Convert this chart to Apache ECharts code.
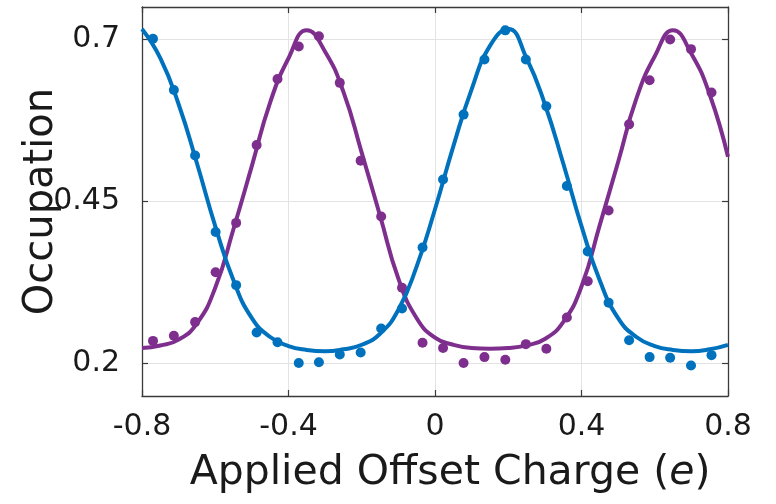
<!DOCTYPE html>
<html>
<head>
<meta charset="utf-8">
<script src="https://cdn.jsdelivr.net/npm/echarts@6/dist/echarts.min.js"></script>
<style>
  html, body { margin: 0; padding: 0; background: #ffffff; }
  #chart { width: 776px; height: 504px; }
</style>
</head>
<body>
<div id="chart"></div>
<script>
// Measured occupation vs applied offset charge (units of e)
const dotX = [-0.770, -0.713, -0.655, -0.599, -0.543, -0.487, -0.430, -0.372, -0.317, -0.260,
              -0.203, -0.147, -0.090, -0.034, 0.022, 0.078, 0.135, 0.192, 0.248, 0.304,
              0.360, 0.417, 0.474, 0.530, 0.586, 0.642, 0.699, 0.755];
const blueDots = [0.701, 0.622, 0.521, 0.403, 0.321, 0.248, 0.233, 0.201, 0.202, 0.214,
                  0.217, 0.254, 0.285, 0.379, 0.484, 0.584, 0.669, 0.714, 0.669, 0.597,
                  0.474, 0.373, 0.294, 0.236, 0.210, 0.209, 0.197, 0.213];
const purpleDots = [0.235, 0.243, 0.264, 0.341, 0.417, 0.537, 0.639, 0.689, 0.705, 0.633,
                    0.513, 0.427, 0.317, 0.232, 0.224, 0.201, 0.210, 0.206, 0.230, 0.223,
                    0.271, 0.327, 0.436, 0.569, 0.637, 0.700, 0.685, 0.618];

// Fitted curves, sampled every 0.05 e
const fitX = [-0.80, -0.75, -0.70, -0.65, -0.60, -0.55, -0.50, -0.45, -0.40, -0.35, -0.30,
              -0.25, -0.20, -0.15, -0.10, -0.05, 0.00, 0.05, 0.10, 0.15, 0.20, 0.25,
              0.30, 0.35, 0.40, 0.45, 0.50, 0.55, 0.60, 0.65, 0.70, 0.75, 0.80];
const blueFit = [0.716, 0.671, 0.600, 0.509, 0.412, 0.328, 0.270, 0.241, 0.227, 0.221, 0.219,
                 0.222, 0.229, 0.246, 0.283, 0.350, 0.438, 0.535, 0.623, 0.690, 0.716, 0.671,
                 0.600, 0.509, 0.412, 0.328, 0.270, 0.241, 0.227, 0.221, 0.219, 0.222, 0.229];
const purpleFit = [0.224, 0.228, 0.237, 0.262, 0.317, 0.408, 0.505, 0.603, 0.671, 0.714, 0.681,
                   0.619, 0.525, 0.428, 0.331, 0.270, 0.240, 0.229, 0.224, 0.223, 0.224, 0.228,
                   0.238, 0.264, 0.319, 0.414, 0.511, 0.609, 0.674, 0.714, 0.678, 0.615, 0.519];

const yTicks = [0.2, 0.45, 0.7];
const xTickLabels = { '-0.8': '-0.8', '-0.4': '-0.4', '0': '0', '0.4': '0.4', '0.8': '0.8' };

const BLUE = '#0072BD';
const PURPLE = '#7E2F8E';
const FONT = 'DejaVu Sans';
const AXIS_COLOR = '#3a3a3a';
const GRID_COLOR = '#e3e3e3';

const pairs = (xs, ys) => xs.map((x, i) => [x, ys[i]]);

const chart = echarts.init(document.getElementById('chart'), null, { renderer: 'canvas' });

const xBase = {
  type: 'value', min: -0.8, max: 0.8, interval: 0.4,
  axisLine: { show: true, onZero: false, lineStyle: { color: AXIS_COLOR, width: 1.3 } },
  axisTick: { show: true, inside: true, length: 6, lineStyle: { color: AXIS_COLOR, width: 1.2 } }
};
const yBase = {
  type: 'value', min: 0.15, max: 0.75,
  axisLine: { show: true, onZero: false, lineStyle: { color: AXIS_COLOR, width: 1.3 } },
  axisTick: { show: true, inside: true, length: 6, customValues: yTicks,
              lineStyle: { color: AXIS_COLOR, width: 1.2 } }
};

chart.setOption({
  animation: false,
  backgroundColor: '#ffffff',
  grid: { left: 142, right: 48, top: 7, bottom: 108, containLabel: false },
  xAxis: [
    Object.assign({}, xBase, {
      position: 'bottom',
      axisLabel: {
        show: true, margin: 16, fontFamily: FONT, fontSize: 30, color: '#1a1a1a',
        formatter: v => xTickLabels[String(Math.round(v * 10) / 10)] ?? ''
      },
      splitLine: { show: true, lineStyle: { color: GRID_COLOR, width: 1 } },
      name: '{n|Applied Offset Charge (}{i|e}{n|)}',
      nameLocation: 'middle',
      nameGap: 57,
      nameMoveOverlap: false,
      nameTextStyle: {
        padding: [0, 0, 0, 30],
        rich: {
          n: { fontFamily: FONT, fontSize: 41, color: '#1a1a1a' },
          i: { fontFamily: FONT, fontSize: 41, fontStyle: 'italic', color: '#1a1a1a' }
        }
      }
    }),
    Object.assign({}, xBase, {
      position: 'top',
      axisLabel: { show: false },
      splitLine: { show: false }
    })
  ],
  yAxis: [
    Object.assign({}, yBase, {
      position: 'left',
      axisLabel: {
        show: true, margin: 22, fontFamily: FONT, fontSize: 30, color: '#1a1a1a',
        customValues: yTicks,
        formatter: v => String(Math.round(v * 100) / 100)
      },
      splitLine: { show: true, lineStyle: { color: GRID_COLOR, width: 1 } },
      name: 'Occupation',
      nameLocation: 'middle',
      nameGap: 80,
      nameMoveOverlap: false,
      nameTextStyle: { fontFamily: FONT, fontSize: 40, color: '#1a1a1a' }
    }),
    Object.assign({}, yBase, {
      position: 'right',
      axisLabel: { show: false },
      splitLine: { show: false }
    })
  ],
  series: [
    {
      name: 'purple fit', type: 'line', xAxisIndex: 0, yAxisIndex: 0,
      data: pairs(fitX, purpleFit), smooth: true, showSymbol: false,
      lineStyle: { color: PURPLE, width: 4 }, z: 2
    },
    {
      name: 'purple data', type: 'scatter', xAxisIndex: 0, yAxisIndex: 0,
      data: pairs(dotX, purpleDots), symbolSize: 10,
      itemStyle: { color: PURPLE, opacity: 1 }, z: 3
    },
    {
      name: 'blue fit', type: 'line', xAxisIndex: 0, yAxisIndex: 0,
      data: pairs(fitX, blueFit), smooth: true, showSymbol: false,
      lineStyle: { color: BLUE, width: 4 }, z: 4
    },
    {
      name: 'blue data', type: 'scatter', xAxisIndex: 0, yAxisIndex: 0,
      data: pairs(dotX, blueDots), symbolSize: 10,
      itemStyle: { color: BLUE, opacity: 1 }, z: 5
    }
  ]
});
</script>
</body>
</html>
